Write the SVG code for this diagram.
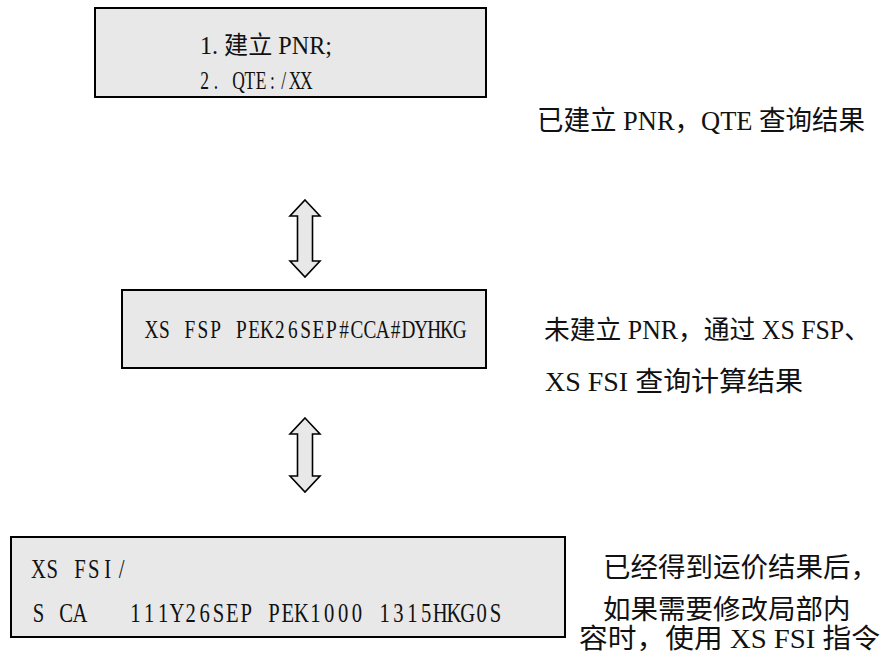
<svg xmlns="http://www.w3.org/2000/svg" width="885" height="654" viewBox="0 0 885 654">
<style>
.box { fill:#e8e8e8; stroke:#000; stroke-width:2; }
.arrow { fill:#e8e8e8; stroke:#000; stroke-width:1.6; stroke-linejoin:miter; }
.t { font-family:"Liberation Serif","Noto Sans CJK SC",serif; font-size:27.5px; fill:#111; }
.s1 { font-size:25px; }
.s2 { font-size:25.7px; }
.s3 { font-size:26.5px; }
.m { text-anchor:middle; white-space:pre; }
</style>
<rect width="885" height="654" fill="#fff"/>
<g id="box1">
<rect class="box" x="95" y="8" width="391" height="89"/>
<text class="t s1" x="200" y="54" textLength="132" lengthAdjust="spacingAndGlyphs">1. 建立 PNR;</text>
<text class="t s1 m" xml:space="preserve" transform="translate(199,0) scale(0.7,1)" y="89" x="8.07 24.21 40.36 56.50 72.64 88.79 104.93 121.07 137.21 153.36">2. QTE:/XX</text>
</g>
<g id="box2">
<rect class="box" x="122" y="290" width="364" height="78"/>
<text class="t s2 m" xml:space="preserve" transform="translate(145,0) scale(0.75,1)" y="338" x="8.57 25.70 42.83 59.97 77.10 94.23 111.37 128.50 145.63 162.77 179.90 197.03 214.17 231.30 248.43 265.57 282.70 299.83 316.97 334.10 351.23 368.37 385.50 402.63 419.77">XS FSP PEK26SEP#CCA#DYHKG</text>
</g>
<g id="box3">
<rect class="box" x="11" y="537" width="554" height="100"/>
<text class="t m" xml:space="preserve" transform="translate(31.5,0) scale(0.75,1)" y="578" x="9.23 27.70 46.17 64.63 83.10 101.57 120.03">XS FSI/</text>
<text class="t m" xml:space="preserve" transform="translate(31.5,0) scale(0.75,1)" y="622" x="9.23 27.70 46.17 64.63 83.10 101.57 120.03 138.50 156.97 175.43 193.90 212.37 230.83 249.30 267.77 286.23 304.70 323.17 341.63 360.10 378.57 397.03 415.50 433.97 452.43 470.90 489.37 507.83 526.30 544.77 563.23 581.70 600.17 618.63">S CA   111Y26SEP PEK1000 1315HKG0S</text>
</g>
<g id="note1">
<text class="t" x="537" y="130" textLength="328" lengthAdjust="spacingAndGlyphs">已建立 PNR，QTE 查询结果</text>
</g>
<g id="note2">
<text class="t s3" x="544" y="339" textLength="326" lengthAdjust="spacingAndGlyphs">未建立 PNR，通过 XS FSP、</text>
<text class="t" x="545" y="391" textLength="258" lengthAdjust="spacingAndGlyphs">XS FSI 查询计算结果</text>
</g>
<g id="note3">
<text class="t" x="603" y="577">已经得到运价结果后，</text>
<text class="t" x="603" y="619">如果需要修改局部内</text>
<text class="t" x="579" y="648" textLength="301" lengthAdjust="spacingAndGlyphs">容时，使用 XS FSI 指令</text>
</g>
<g id="connectors">
<path class="arrow" d="M305,200 L320,216 L312.5,216 L312.5,261 L320,261 L305,277 L290,261 L297.5,261 L297.5,216 L290,216 Z"/>
<path class="arrow" d="M305,418 L320,434 L312.5,434 L312.5,476 L320,476 L305,492 L290,476 L297.5,476 L297.5,434 L290,434 Z"/>
</g>
</svg>
